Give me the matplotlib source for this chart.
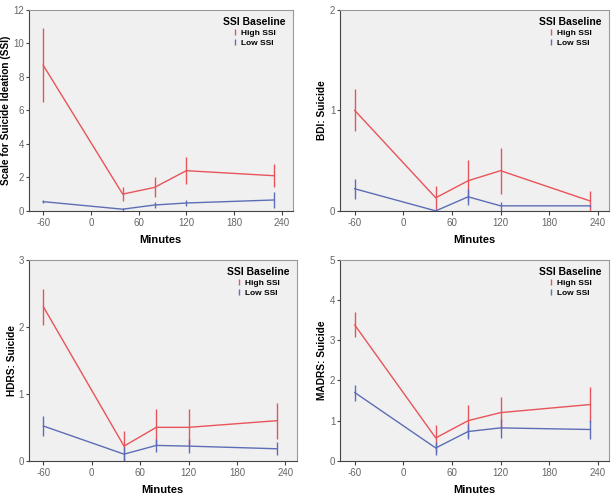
import numpy as np
import matplotlib

matplotlib.use("Agg")
import matplotlib.pyplot as plt
from matplotlib.lines import Line2D

plt.rcParams.update({
    "font.family": ["Liberation Sans", "DejaVu Sans"],
    "figure.facecolor": "white",
    "axes.unicode_minus": False,
})

RED = "#e8545a"
BLUE = "#5d6db5"
BG = "#f0f0f0"

minutes = [-60, 40, 80, 120, 230]

# SSI
ssi_hi = [8.7, 1.0, 1.4, 2.4, 2.1]
ssi_hi_lo = [6.5, 0.6, 0.8, 1.6, 1.4]
ssi_hi_up = [10.9, 1.4, 2.0, 3.2, 2.8]
ssi_low = [0.55, 0.1, 0.35, 0.47, 0.65]
ssi_low_lo = [0.45, 0.0, 0.2, 0.3, 0.2]
ssi_low_up = [0.65, 0.2, 0.5, 0.65, 1.1]

# BDI
bdi_hi = [1.0, 0.13, 0.3, 0.4, 0.1]
bdi_hi_lo = [0.79, 0.0, 0.1, 0.17, 0.0]
bdi_hi_up = [1.21, 0.25, 0.51, 0.63, 0.2]
bdi_low = [0.22, 0.0, 0.14, 0.05, 0.05]
bdi_low_lo = [0.12, 0.0, 0.06, 0.0, 0.04]
bdi_low_up = [0.32, 0.0, 0.22, 0.09, 0.06]

# HDRS
hdrs_hi = [2.3, 0.22, 0.5, 0.5, 0.6]
hdrs_hi_lo = [2.03, 0.0, 0.23, 0.23, 0.33]
hdrs_hi_up = [2.57, 0.45, 0.77, 0.77, 0.87]
hdrs_low = [0.52, 0.1, 0.23, 0.22, 0.18]
hdrs_low_lo = [0.37, 0.0, 0.13, 0.12, 0.08]
hdrs_low_up = [0.67, 0.2, 0.33, 0.32, 0.28]

# MADRS
madrs_hi = [3.38, 0.57, 1.0, 1.2, 1.4]
madrs_hi_lo = [3.08, 0.23, 0.6, 0.8, 0.97]
madrs_hi_up = [3.7, 0.9, 1.4, 1.6, 1.83]
madrs_low = [1.7, 0.32, 0.73, 0.82, 0.78]
madrs_low_lo = [1.5, 0.15, 0.55, 0.58, 0.55]
madrs_low_up = [1.88, 0.48, 0.92, 1.05, 1.01]

panels = [
    ("Scale for Suicide Ideation (SSI)", 12, [0, 2, 4, 6, 8, 10, 12],
     (ssi_hi, ssi_hi_lo, ssi_hi_up), (ssi_low, ssi_low_lo, ssi_low_up)),
    ("BDI: Suicide", 2, [0, 1, 2],
     (bdi_hi, bdi_hi_lo, bdi_hi_up), (bdi_low, bdi_low_lo, bdi_low_up)),
    ("HDRS: Suicide", 3, [0, 1, 2, 3],
     (hdrs_hi, hdrs_hi_lo, hdrs_hi_up), (hdrs_low, hdrs_low_lo, hdrs_low_up)),
    ("MADRS: Suicide", 5, [0, 1, 2, 3, 4, 5],
     (madrs_hi, madrs_hi_lo, madrs_hi_up), (madrs_low, madrs_low_lo, madrs_low_up)),
]

positions = [
    [0.047, 0.574, 0.430, 0.406],
    [0.554, 0.574, 0.438, 0.406],
    [0.047, 0.069, 0.436, 0.406],
    [0.554, 0.069, 0.438, 0.406],
]
# ylabel offset left of the axis, in pixels
label_off = [18, 13, 12, 13]

fig = plt.figure(figsize=(6.14, 4.95), dpi=100)

for pos, off, (ylab, ymax, yticks, hi, low) in zip(positions, label_off, panels):
    ax = fig.add_axes(pos)
    ax.set_facecolor(BG)
    for (m, lo, up), col in [(hi, RED), (low, BLUE)]:
        m = np.array(m)
        err = [m - np.array(lo), np.array(up) - m]
        ax.errorbar(minutes, m, yerr=err, color=col, lw=1.0, elinewidth=1.0,
                    capsize=0, zorder=3)
    ax.set_xlim(-78, 254)
    ax.set_ylim(0, ymax)
    ax.set_xticks([-60, 0, 60, 120, 180, 240])
    ax.set_yticks(yticks)
    ax.tick_params(labelsize=7, labelcolor="#666666", length=3,
                   color="#444444", pad=2)
    ax.tick_params(axis="y", pad=1, length=2.5)
    for s in ["top", "right"]:
        ax.spines[s].set_color("#999999")
    for s in ["left", "bottom"]:
        ax.spines[s].set_color("#444444")
    ax.set_xlabel("Minutes", fontsize=8, fontweight="bold", labelpad=5)
    ax.set_ylabel(ylab, fontsize=7.3, fontweight="bold")
    ax.yaxis.set_label_coords(-off / (pos[2] * 614), 0.5)
    handles = [
        Line2D([], [], ls="none", marker="$\\mathrm{I}$", color=RED, ms=5),
        Line2D([], [], ls="none", marker="$\\mathrm{I}$", color=BLUE, ms=5),
    ]
    leg = ax.legend(handles, ["High SSI", "Low SSI"], title="SSI Baseline",
                    loc="upper right", frameon=False, fontsize=6,
                    handlelength=0.6, handletextpad=0.4, labelspacing=0.25,
                    borderaxespad=0.5,
                    title_fontproperties={"weight": "bold", "size": 7.5})
    for t in leg.get_texts():
        t.set_fontweight("bold")

fig.savefig("out.png", dpi=100)
